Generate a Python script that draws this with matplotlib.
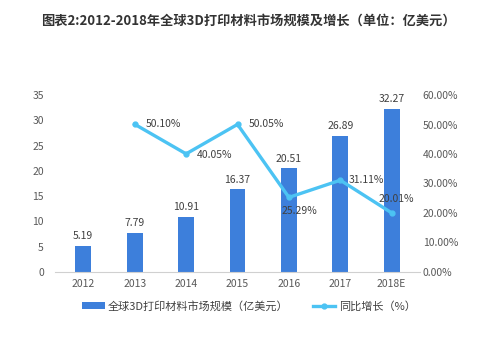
import matplotlib
matplotlib.use("Agg")
import matplotlib.pyplot as plt
from matplotlib.ticker import FuncFormatter

plt.rcParams["font.family"] = ["Noto Sans CJK SC", "DejaVu Sans"]

years = ["2012", "2013", "2014", "2015", "2016", "2017", "2018E"]
market_size = [5.19, 7.79, 10.91, 16.37, 20.51, 26.89, 32.27]
growth_years = ["2013", "2014", "2015", "2016", "2017", "2018E"]
growth_pct = [50.10, 40.05, 50.05, 25.29, 31.11, 20.01]

BAR_COLOR = "#3d7fdb"
LINE_COLOR = "#4cc3f3"
TICK_COLOR = "#595959"

fig = plt.figure(figsize=(5.0, 3.42), dpi=100)
ax = fig.add_axes([0.11, 0.205, 0.73, 0.517])
ax2 = ax.twinx()

x = list(range(len(years)))
bars = ax.bar(x, market_size, width=0.31, color=BAR_COLOR, zorder=2,
              label="全球3D打印材料市场规模（亿美元）")
for xi, v in zip(x, market_size):
    ax.text(xi, v + 0.9, f"{v:.2f}", ha="center", va="bottom", fontsize=7.5, color="#404040")

gx = [years.index(y) for y in growth_years]
line, = ax2.plot(gx, growth_pct, color=LINE_COLOR, linewidth=2.4, marker="o",
                 markersize=3.5, zorder=3, label="同比增长（%）")

# label offsets (points) for each growth value
offsets = [(8, 0, "left"), (8, -1, "left"), (8, 0, "left"),
           (-5, -10, "left"), (6, 0, "left"), (3, 10, "center")]
for xi, v, (dx, dy, ha) in zip(gx, growth_pct, offsets):
    ax2.annotate(f"{v:.2f}%", (xi, v), xytext=(dx, dy), textcoords="offset points",
                 ha=ha, va="center", fontsize=7.5, color="#404040")

ax.set_ylim(0, 35)
ax.set_yticks(range(0, 36, 5))
ax2.set_ylim(0, 60)
ax2.set_yticks(range(0, 61, 10))
ax2.yaxis.set_major_formatter(FuncFormatter(lambda v, _: f"{v:.2f}%"))
ax.set_xlim(-0.55, len(years) - 0.45)
ax.set_xticks(x)
ax.set_xticklabels(years)

for a in (ax, ax2):
    for side in ("top", "left", "right", "bottom"):
        a.spines[side].set_visible(False)
    a.tick_params(length=0, labelsize=7.5, colors=TICK_COLOR)
ax.spines["bottom"].set_visible(True)
ax.spines["bottom"].set_color("#d0d0d0")
ax.tick_params(axis="y", pad=8)
ax2.tick_params(axis="y", pad=2)
ax.tick_params(axis="x", pad=5)

fig.text(0.496, 0.94, "图表2:2012-2018年全球3D打印材料市场规模及增长（单位：亿美元）",
         ha="center", va="center", fontsize=9.5, fontweight="bold", color="#333333")

fig.legend(handles=[bars, line], loc="center", bbox_to_anchor=(0.498, 0.105), ncol=2,
           frameon=False, fontsize=8, handlelength=2.0, columnspacing=2.2,
           handletextpad=0.3, labelcolor="#404040")

fig.savefig("out.png", dpi=100, facecolor="white")
